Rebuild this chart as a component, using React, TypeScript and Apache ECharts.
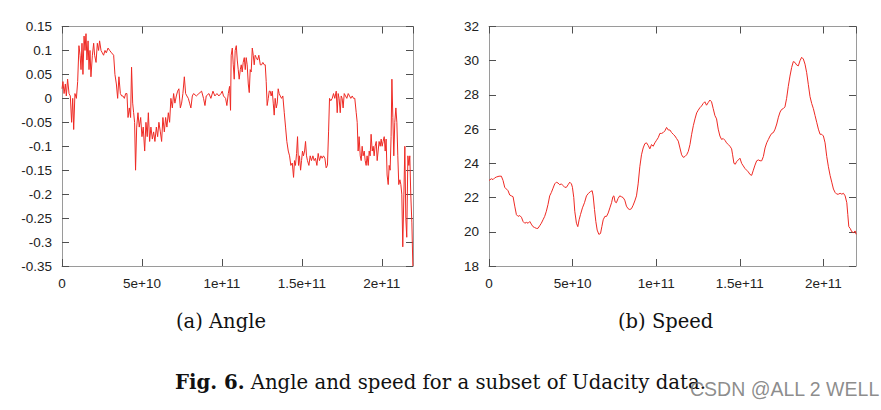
import React, { useEffect, useRef } from "react";
import * as echarts from "echarts";

// Angle data: time in units of 1e10, steering angle
const angleTime = [
  0, 0.06, 0.13, 0.21, 0.27, 0.35, 0.44, 0.52, 0.60, 0.67,
  0.73, 0.81, 0.90, 0.98, 1.06, 1.13, 1.19, 1.25, 1.31, 1.38,
  1.44, 1.5, 1.56, 1.63, 1.69, 1.75, 1.81, 1.90, 1.98, 2.04,
  2.13, 2.21, 2.29, 2.35, 2.44, 2.52, 2.60, 2.69, 2.77, 2.88,
  2.98, 3.10, 3.23, 3.31, 3.40, 3.48, 3.56, 3.65, 3.73, 3.81,
  3.90, 3.98, 4.06, 4.13, 4.21, 4.29, 4.35, 4.42, 4.48, 4.54,
  4.60, 4.67, 4.75, 4.83, 4.92, 5.0, 5.08, 5.17, 5.25, 5.33,
  5.40, 5.48, 5.56, 5.65, 5.73, 5.81, 5.90, 5.98, 6.06, 6.15,
  6.23, 6.31, 6.40, 6.48, 6.56, 6.65, 6.73, 6.81, 6.90, 6.98,
  7.06, 7.15, 7.23, 7.31, 7.40, 7.48, 7.56, 7.65, 7.73, 7.81,
  7.90, 7.98, 8.06, 8.15, 8.23, 8.40, 8.56, 8.73, 8.85, 8.94,
  9.02, 9.19, 9.31, 9.44, 9.56, 9.69, 9.81, 9.94, 10.02, 10.10,
  10.23, 10.31, 10.40, 10.48, 10.54, 10.58, 10.65, 10.71, 10.77, 10.83,
  10.90, 10.96, 11.02, 11.08, 11.15, 11.21, 11.27, 11.33, 11.40, 11.46,
  11.52, 11.58, 11.65, 11.71, 11.77, 11.83, 11.90, 11.96, 12.02, 12.08,
  12.15, 12.23, 12.31, 12.40, 12.48, 12.56, 12.65, 12.71, 12.77, 12.83,
  12.90, 12.96, 13.02, 13.08, 13.15, 13.21, 13.27, 13.33, 13.40, 13.46,
  13.52, 13.58, 13.65, 13.73, 13.81, 13.90, 13.98, 14.06, 14.15, 14.23,
  14.31, 14.40, 14.48, 14.54, 14.60, 14.67, 14.73, 14.79, 14.85, 14.92,
  14.98, 15.04, 15.10, 15.17, 15.23, 15.29, 15.35, 15.44, 15.52, 15.60,
  15.69, 15.77, 15.85, 15.94, 16.02, 16.10, 16.19, 16.27, 16.35, 16.44,
  16.52, 16.60, 16.67, 16.73, 16.81, 16.90, 16.98, 17.06, 17.15, 17.21,
  17.27, 17.33, 17.40, 17.46, 17.52, 17.58, 17.65, 17.73, 17.81, 17.90,
  17.98, 18.06, 18.15, 18.23, 18.31, 18.40, 18.46, 18.52, 18.58, 18.65,
  18.71, 18.77, 18.83, 18.90, 18.96, 19.02, 19.08, 19.15, 19.21, 19.27,
  19.33, 19.40, 19.46, 19.52, 19.58, 19.65, 19.71, 19.77, 19.83, 19.90,
  19.96, 20.02, 20.08, 20.15, 20.21, 20.27, 20.33, 20.40, 20.46, 20.52,
  20.58, 20.63, 20.69, 20.75, 20.81, 20.88, 20.94, 21.00, 21.06, 21.13,
  21.19, 21.25, 21.31, 21.38, 21.44, 21.50, 21.56, 21.63, 21.69, 21.75,
  21.81, 21.88, 21.94,
];
const angleValue = [
  0.02, 0.035, 0.01, 0.03, 0.005, 0.04, 0.01, 0.005, -0.05, 0.0,
  -0.065, 0.01, 0.0, 0.035, 0.11, 0.09, 0.06, 0.115, 0.05, 0.13,
  0.1, 0.135, 0.08, 0.12, 0.06, 0.1, 0.045, 0.09, 0.115, 0.09,
  0.075, 0.115, 0.1, 0.12, 0.1, 0.095, 0.09, 0.1, 0.095, 0.105,
  0.1, 0.095, 0.09, 0.05, 0.03, 0.0, 0.045, 0.01, 0.005, 0.005,
  0.0, 0.01, 0.01, -0.04, -0.02, -0.04, 0.065, -0.01, -0.03, -0.05,
  -0.15, -0.06, -0.03, -0.06, -0.04, -0.08, -0.06, -0.11, -0.05, -0.08,
  -0.03, -0.09, -0.06, -0.085, -0.07, -0.09, -0.06, -0.08, -0.05, -0.07,
  -0.09, -0.04, -0.07, -0.04, -0.06, -0.03, -0.05, 0.0, -0.02, 0.01,
  -0.01, 0.005, 0.015, 0.02, -0.02, -0.01, 0.01, 0.045, 0.01, 0.005,
  0.0, -0.01, -0.02, 0.005, 0.01, 0.005, 0.01, 0.015, 0.0, -0.015,
  0.005, 0.01, 0.0, 0.015, 0.005, 0.01, 0.005, 0.01, 0.015, 0.005,
  0.0, -0.015, 0.01, 0.025, -0.025, 0.09, 0.105, 0.07, 0.04, 0.1,
  0.11, 0.08, 0.06, 0.04, 0.06, 0.07, 0.055, 0.075, 0.085, 0.06,
  0.085, 0.07, 0.03, 0.012, 0.06, 0.055, 0.105, 0.09, 0.07, 0.09,
  0.085, 0.08, 0.09, 0.07, 0.07, 0.075, 0.07, 0.07, 0.035, -0.015,
  0.0, 0.015, 0.015, 0.005, 0.015, -0.01, -0.035, 0.0, -0.02, -0.01,
  0.02, 0.01, 0.005, 0.0, 0.005, -0.03, -0.06, -0.09, -0.11, -0.12,
  -0.14, -0.135, -0.165, -0.13, -0.14, -0.115, -0.08, -0.14, -0.12, -0.15,
  -0.13, -0.11, -0.12, -0.11, -0.09, -0.12, -0.13, -0.14, -0.12, -0.13,
  -0.12, -0.13, -0.125, -0.14, -0.115, -0.13, -0.12, -0.125, -0.12, -0.125,
  -0.145, -0.14, -0.07, 0.0, -0.005, 0.0, 0.01, 0.0, 0.015, -0.03,
  0.01, 0.0, -0.03, 0.005, 0.0, -0.02, 0.01, 0.005, 0.0, 0.01,
  0.005, 0.0, 0.005, 0.0, 0.0, -0.03, -0.05, -0.11, -0.08, -0.12,
  -0.13, -0.1, -0.12, -0.11, -0.13, -0.14, -0.12, -0.14, -0.11, -0.12,
  -0.075, -0.11, -0.1, -0.12, -0.1, -0.09, -0.13, -0.11, -0.09, -0.1,
  -0.085, -0.1, -0.09, -0.08, -0.11, -0.085, -0.16, -0.18, -0.14, -0.15,
  -0.08, 0.04, -0.04, -0.12, -0.05, -0.02, -0.05, -0.12, -0.18, -0.17,
  -0.18, -0.2, -0.31, -0.2, -0.1, -0.25, -0.29, -0.12, -0.14, -0.12,
  -0.2, -0.26, -0.35,
];

// Speed data: time in units of 1e10, speed
const speedTime = [
  0, 0.14, 0.24, 0.34, 0.44, 0.60, 0.74, 0.84, 0.94, 1.04,
  1.14, 1.24, 1.34, 1.44, 1.54, 1.64, 1.74, 1.84, 1.94, 2.04,
  2.14, 2.24, 2.34, 2.44, 2.53, 2.63, 2.73, 2.83, 2.93, 3.03,
  3.13, 3.23, 3.33, 3.43, 3.53, 3.63, 3.73, 3.83, 3.93, 4.03,
  4.13, 4.23, 4.33, 4.43, 4.53, 4.63, 4.73, 4.83, 4.93, 4.99,
  5.07, 5.13, 5.23, 5.31, 5.39, 5.47, 5.59, 5.71, 5.83, 5.95,
  6.07, 6.17, 6.23, 6.31, 6.39, 6.47, 6.57, 6.67, 6.75, 6.83,
  6.93, 7.03, 7.13, 7.23, 7.33, 7.41, 7.47, 7.54, 7.62, 7.72,
  7.82, 7.92, 8.02, 8.12, 8.22, 8.32, 8.42, 8.52, 8.62, 8.72,
  8.82, 8.92, 9.02, 9.12, 9.22, 9.32, 9.42, 9.52, 9.62, 9.72,
  9.82, 9.92, 10.02, 10.12, 10.22, 10.32, 10.42, 10.52, 10.62, 10.72,
  10.82, 10.92, 11.02, 11.12, 11.22, 11.32, 11.42, 11.52, 11.62, 11.72,
  11.82, 11.92, 12.02, 12.12, 12.22, 12.32, 12.42, 12.51, 12.61, 12.71,
  12.81, 12.91, 13.01, 13.11, 13.21, 13.31, 13.41, 13.51, 13.61, 13.71,
  13.81, 13.91, 14.01, 14.11, 14.21, 14.31, 14.41, 14.51, 14.57, 14.65,
  14.73, 14.81, 14.91, 15.01, 15.11, 15.21, 15.31, 15.41, 15.51, 15.61,
  15.71, 15.81, 15.91, 16.01, 16.11, 16.21, 16.31, 16.41, 16.51, 16.61,
  16.71, 16.81, 16.91, 17.01, 17.11, 17.21, 17.31, 17.41, 17.50, 17.60,
  17.70, 17.80, 17.90, 18.00, 18.10, 18.20, 18.30, 18.40, 18.50, 18.60,
  18.70, 18.80, 18.90, 19.00, 19.10, 19.20, 19.30, 19.40, 19.50, 19.60,
  19.70, 19.80, 19.90, 20.00, 20.10, 20.20, 20.30, 20.40, 20.50, 20.60,
  20.70, 20.80, 20.90, 21.00, 21.10, 21.20, 21.30, 21.40, 21.46, 21.52,
  21.60, 21.70, 21.80, 21.90, 21.96,
];
const speedValue = [
  23.0, 23.1, 23.05, 23.15, 23.2, 23.25, 23.25, 23.0, 22.6, 22.5,
  22.4, 22.15, 22.1, 22.05, 21.5, 21.0, 20.9, 20.95, 20.85, 20.6,
  20.5, 20.55, 20.5, 20.6, 20.45, 20.3, 20.25, 20.2, 20.2, 20.35,
  20.5, 20.7, 20.9, 21.2, 21.6, 22.1, 22.3, 22.55, 22.8, 22.9,
  22.85, 22.75, 22.8, 22.7, 22.6, 22.6, 22.75, 22.9, 22.8, 22.6,
  22.0, 21.2, 20.5, 20.3, 20.7, 21.0, 21.4, 21.7, 22.1, 22.25,
  22.35, 22.4, 22.1, 21.3, 20.6, 20.1, 19.85, 19.9, 20.3, 20.7,
  20.9, 20.9, 21.1, 21.4, 21.7, 22.05, 22.1, 21.75, 21.7, 21.95,
  22.1, 22.05, 22.0, 21.85, 21.5, 21.35, 21.3, 21.35, 21.55, 21.8,
  22.1, 22.8, 23.8, 24.5, 24.9, 25.15, 25.2, 25.05, 24.85, 25.1,
  25.0, 25.2, 25.35, 25.5, 25.75, 25.75, 25.8, 25.9, 26.1, 25.95,
  25.95, 25.8, 25.7, 25.6, 25.45, 25.3, 24.9, 24.5, 24.35, 24.4,
  24.5, 24.7, 25.1, 25.7, 26.2, 26.6, 26.95, 27.1, 27.25, 27.35,
  27.5, 27.6, 27.4, 27.55, 27.7, 27.6, 27.2, 26.8, 26.6, 26.0,
  25.6, 25.4, 25.45, 25.35, 25.2, 25.1, 25.0, 24.85, 24.5, 24.0,
  23.95, 24.1, 24.2, 24.3, 24.0, 23.85, 23.7, 23.6, 23.5, 23.35,
  23.3, 23.6, 23.9, 24.15, 24.2, 24.15, 24.15, 24.4, 24.9, 25.2,
  25.4, 25.6, 25.75, 25.8, 26.0, 26.3, 26.7, 27.0, 27.15, 27.2,
  27.3, 27.8, 28.5, 29.1, 29.6, 29.95, 29.9, 29.75, 29.7, 30.0,
  30.2, 30.1, 29.8, 29.3, 28.6, 27.9, 27.5, 27.2, 26.8, 26.4,
  26.0, 25.7, 25.7, 25.6, 25.2, 24.4, 23.8, 23.3, 22.9, 22.5,
  22.3, 22.2, 22.2, 22.25, 22.2, 22.25, 22.1, 21.7, 21.0, 20.3,
  20.2, 20.0, 19.95, 20.05, 19.85,
];

const TIME_UNIT = 1e10;
const xMax = 2.195e11;
const xInterval = 5e10;
const angleRange = { min: -0.35, max: 0.15, interval: 0.05 };
const speedRange = { min: 18, max: 32, interval: 2 };

const captionA = "(a) Angle";
const captionB = "(b) Speed";
const figLabel = "Fig. 6.";
const figText = " Angle and speed for a subset of Udacity data.";
const watermark = "CSDN @ALL 2 WELL";

const FRAME = "#9a9a9a";
const TICK = "#505050";
const LABEL = "#222";
const LINE = "#ee2a24";
const SANS = "'Liberation Sans', Arial, sans-serif";

function xFormatter(v: number) {
  if (v === 0) return "0";
  return v.toExponential();
}

function makeXAxes(gridIndex: number) {
  const base = {
    type: "value" as const,
    gridIndex,
    min: 0,
    max: xMax,
    interval: xInterval,
    splitLine: { show: false },
    axisLine: { show: true, onZero: false, lineStyle: { color: FRAME, width: 1 } },
    axisTick: { show: true, inside: true, length: 7, lineStyle: { color: TICK, width: 1 } },
  };
  return [
    {
      ...base,
      position: "bottom",
      axisLabel: {
        show: true,
        showMaxLabel: false,
        margin: 10,
        color: LABEL,
        fontSize: 13.5,
        fontFamily: SANS,
        formatter: xFormatter,
      },
    },
    { ...base, position: "top", axisLabel: { show: false } },
  ];
}

function makeYAxes(gridIndex: number, r: { min: number; max: number; interval: number }) {
  const base = {
    type: "value" as const,
    gridIndex,
    min: r.min,
    max: r.max,
    interval: r.interval,
    splitLine: { show: false },
    axisLine: { show: true, onZero: false, lineStyle: { color: FRAME, width: 1 } },
    axisTick: { show: true, inside: true, length: 7, lineStyle: { color: TICK, width: 1 } },
  };
  return [
    {
      ...base,
      position: "left",
      axisLabel: {
        show: true,
        margin: 10,
        color: LABEL,
        fontSize: 13.5,
        fontFamily: SANS,
      },
    },
    { ...base, position: "right", axisLabel: { show: false } },
  ];
}

export default function App() {
  const ref = useRef<HTMLDivElement>(null);

  useEffect(() => {
    if (!ref.current) return;
    const chart = echarts.init(ref.current, null, { renderer: "svg" });

    const angleData = angleTime.map((t, i) => [t * TIME_UNIT, angleValue[i]]);
    const speedData = speedTime.map((t, i) => [t * TIME_UNIT, speedValue[i]]);

    const option: any = {
      animation: false,
      backgroundColor: "#ffffff",
      grid: [
        { left: 62, top: 26.5, width: 351, height: 239.5 },
        { left: 489, top: 26.5, width: 367, height: 239.5 },
      ],
      xAxis: [...makeXAxes(0), ...makeXAxes(1)],
      yAxis: [...makeYAxes(0, angleRange), ...makeYAxes(1, speedRange)],
      series: [
        {
          type: "line",
          xAxisIndex: 0,
          yAxisIndex: 0,
          data: angleData,
          showSymbol: false,
          symbol: "none",
          lineStyle: { color: LINE, width: 1 },
        },
        {
          type: "line",
          xAxisIndex: 2,
          yAxisIndex: 2,
          data: speedData,
          showSymbol: false,
          symbol: "none",
          lineStyle: { color: LINE, width: 1 },
        },
      ],
      graphic: [
        {
          type: "text",
          left: 176,
          top: 311,
          style: {
            text: captionA,
            fill: "#111",
            font: "19.5px 'DejaVu Serif', serif",
          },
        },
        {
          type: "text",
          left: 618,
          top: 311,
          style: {
            text: captionB,
            fill: "#111",
            font: "19.5px 'DejaVu Serif', serif",
          },
        },
        {
          type: "text",
          left: 175,
          top: 372,
          style: {
            text: `{b|${figLabel}}{n|${figText}}`,
            rich: {
              b: { fontFamily: "DejaVu Serif", fontSize: 19.7, fontWeight: "bold", fill: "#111" },
              n: { fontFamily: "DejaVu Serif", fontSize: 19.7, fill: "#111" },
            },
          },
        },
        {
          type: "text",
          left: 690,
          top: 379,
          z: 100,
          style: {
            text: watermark,
            fill: "rgba(120,120,120,0.85)",
            font: "19.5px 'Liberation Sans', Arial, sans-serif",
          },
        },
      ],
    };

    chart.setOption(option);
    return () => chart.dispose();
  }, []);

  return (
    <div
      ref={ref}
      style={{ position: "absolute", left: 0, top: 0, width: 881, height: 410 }}
    />
  );
}
